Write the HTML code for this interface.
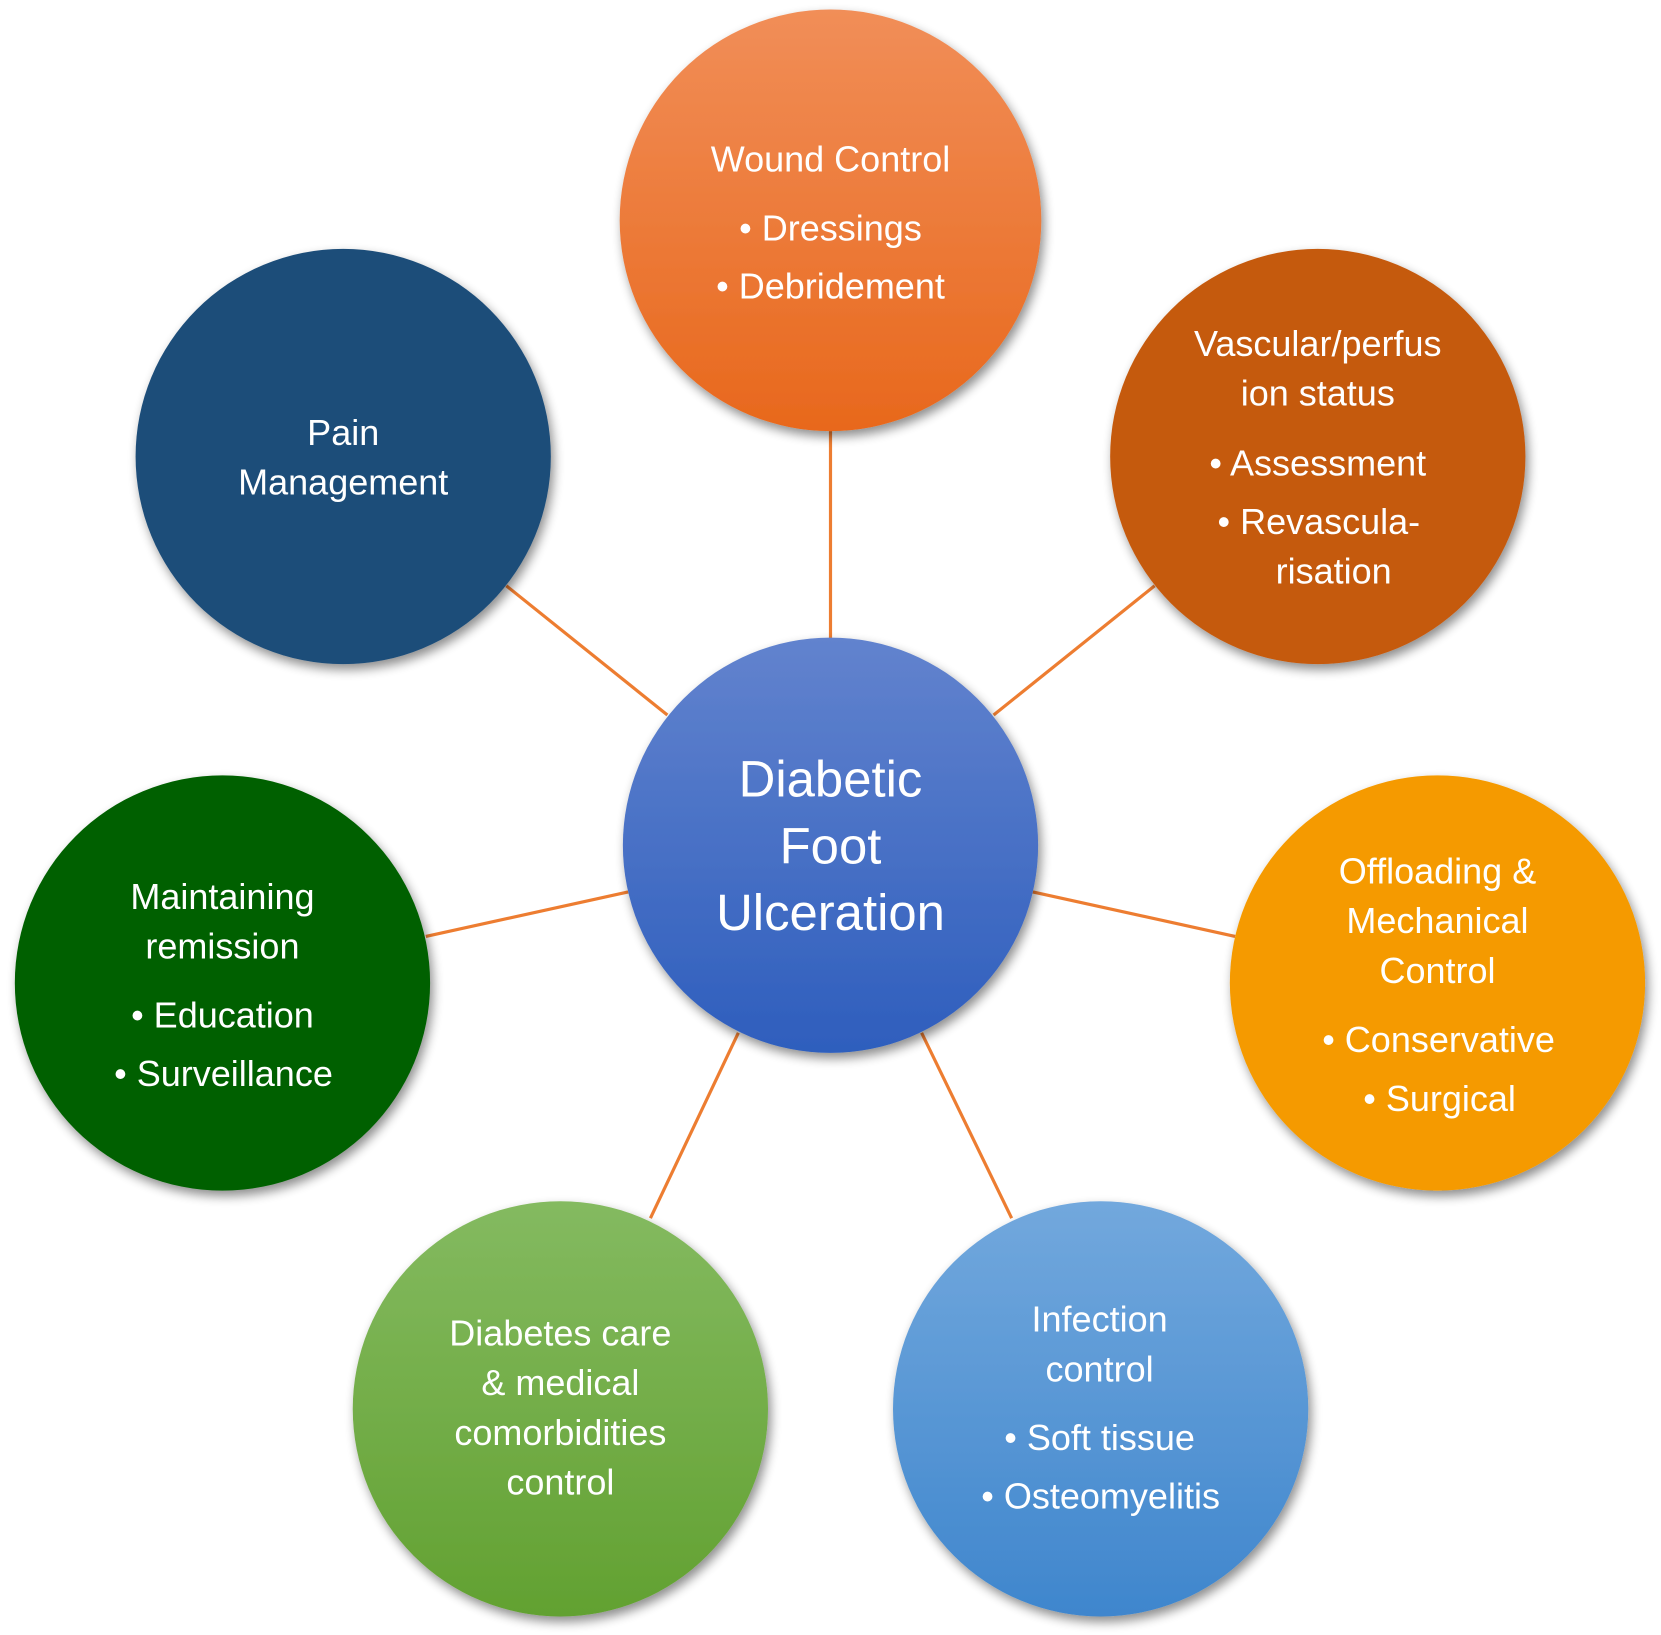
<!DOCTYPE html>
<html><head><meta charset="utf-8"><style>
html,body{margin:0;padding:0;background:#fff;}
svg{display:block;}
text{font-family:"Liberation Sans",sans-serif;fill:#fff;text-anchor:middle;}
.t{font-size:34px;}
.c{font-size:48px;}
</style></head><body>
<svg width="1661" height="1635" viewBox="0 0 1568 1543.5" preserveAspectRatio="none">
<defs>
<filter id="sh" x="-20%" y="-20%" width="140%" height="140%">
<feGaussianBlur in="SourceAlpha" stdDeviation="5"/>
<feOffset dx="3" dy="5"/>
<feComponentTransfer><feFuncA type="linear" slope="0.45"/></feComponentTransfer>
<feMerge><feMergeNode/><feMergeNode in="SourceGraphic"/></feMerge>
</filter>
<linearGradient id="gw" x1="0" y1="0" x2="0" y2="1"><stop offset="0" stop-color="#F18E58"/><stop offset="1" stop-color="#E8681C"/></linearGradient>
<linearGradient id="gc" x1="0" y1="0" x2="0" y2="1"><stop offset="0" stop-color="#6283CE"/><stop offset="1" stop-color="#2E5EBD"/></linearGradient>
<linearGradient id="gi" x1="0" y1="0" x2="0" y2="1"><stop offset="0" stop-color="#72A8DD"/><stop offset="1" stop-color="#3F86CD"/></linearGradient>
<linearGradient id="gd" x1="0" y1="0" x2="0" y2="1"><stop offset="0" stop-color="#84BA60"/><stop offset="1" stop-color="#62A131"/></linearGradient>
</defs>
<g stroke="#ED7D31" stroke-width="3">
<line x1="784" y1="405" x2="784" y2="605"/>
<line x1="938" y1="675" x2="1090" y2="553"/>
<line x1="630" y1="675" x2="478" y2="553"/>
<line x1="975" y1="842" x2="1166" y2="884"/>
<line x1="593" y1="842" x2="402" y2="884"/>
<line x1="870" y1="975" x2="955" y2="1150"/>
<line x1="697" y1="975" x2="614" y2="1150"/>
</g>
<g filter="url(#sh)">
<circle cx="784" cy="208" r="199" fill="url(#gw)"/>
<circle cx="1244" cy="431" r="196" fill="#C55A11"/>
<circle cx="324" cy="431" r="196" fill="#1F4E79"/>
<circle cx="1357" cy="928" r="196" fill="#F59A00"/>
<circle cx="210" cy="928" r="196" fill="#006100"/>
<circle cx="1039" cy="1330" r="196" fill="url(#gi)"/>
<circle cx="529" cy="1330" r="196" fill="url(#gd)"/>
<circle cx="784" cy="798" r="196" fill="url(#gc)"/>
</g>
<g class="t">
<text x="784" y="162">Wound Control</text>
<text x="784" y="227">• Dressings</text>
<text x="784" y="282">• Debridement</text>
<text x="1244" y="336">Vascular/perfus</text>
<text x="1244" y="383">ion status</text>
<text x="1244" y="449">• Assessment</text>
<text x="1245" y="504">• Revascula-</text>
<text x="1259" y="551">risation</text>
<text x="324" y="420">Pain</text>
<text x="324" y="467">Management</text>
<text x="1357" y="834">Offloading &amp;</text>
<text x="1357" y="881">Mechanical</text>
<text x="1357" y="928">Control</text>
<text x="1358" y="993">• Conservative</text>
<text x="1359" y="1049">• Surgical</text>
<text x="210" y="858">Maintaining</text>
<text x="210" y="905">remission</text>
<text x="210" y="970">• Education</text>
<text x="211" y="1025">• Surveillance</text>
<text x="1038" y="1257">Infection</text>
<text x="1038" y="1304">control</text>
<text x="1038" y="1369">• Soft tissue</text>
<text x="1039" y="1424">• Osteomyelitis</text>
<text x="529" y="1270">Diabetes care</text>
<text x="529" y="1317">&amp; medical</text>
<text x="529" y="1364">comorbidities</text>
<text x="529" y="1411">control</text>
</g>
<g class="c">
<text x="784" y="752">Diabetic</text>
<text x="784" y="815">Foot</text>
<text x="784" y="878">Ulceration</text>
</g>
</svg>
</body></html>
